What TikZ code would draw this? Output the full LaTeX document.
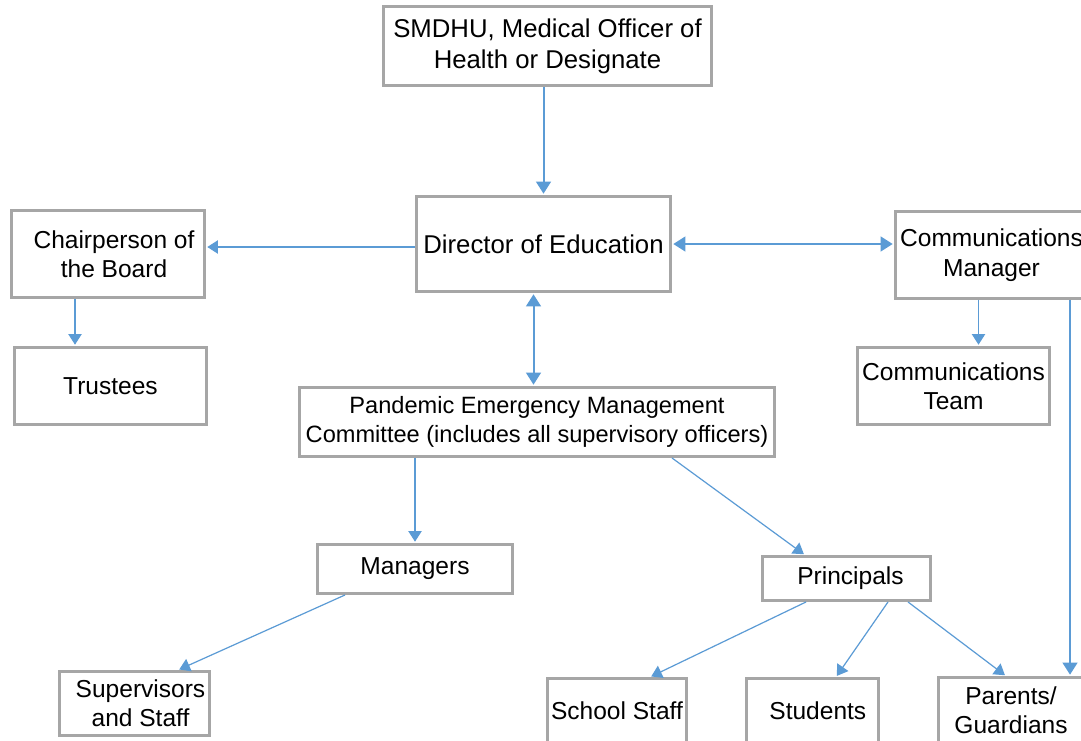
\documentclass[tikz,border=0pt]{standalone}
\usepackage{fontspec}
\setmainfont{Liberation Sans}
\usetikzlibrary{arrows.meta}
\definecolor{boxgray}{HTML}{A6A6A6}
\definecolor{linkblue}{HTML}{5B9BD5}

\tikzset{
  box/.style={draw=boxgray, line width=2.2pt, fill=white, align=center,
    inner sep=0pt, font=\fontsize{18.4}{22}\selectfont},
  bigtext/.style={font=\fontsize{19.3}{23.2}\selectfont},
  smalltext/.style={font=\fontsize{17.7}{21.75}\selectfont},
  tip/.tip={Triangle[width=10pt,length=8pt]},
  bigtip/.tip={Triangle[width=11pt,length=9pt]},
  link/.style={draw=linkblue, line width=0.9pt, -tip, shorten >=1pt},
  heavy/.style={line width=1.5pt, -bigtip},
  twoway/.style={bigtip-bigtip, shorten <=1pt}
}

% box given by its outer corners (x1,y1) and (x2,y2) in pixel units
\newcommand\orgbox[7][]{%
  \node[box, minimum width={(#5-#3-3)*0.75pt}, minimum height={(#6-#4-3)*0.75pt}, #1]
    (#2) at ({(#3+#5)/2},{(#4+#6)/2}) {#7};}

\begin{document}
\begin{tikzpicture}[x=0.75pt,y=-0.75pt]
  \useasboundingbox (0,0) rectangle (1081,740);
  \fill[white] (0,0) rectangle (1081,740);
  \clip (0,0) rectangle (1081,740);

  \orgbox[bigtext]{smdhu}{382}{5}{713}{87}{SMDHU, Medical Officer of\\Health or Designate}
  \orgbox[bigtext]{director}{415}{195}{672}{293}{Director of Education}
  \orgbox{chair}{10}{209}{206}{299}{\hspace*{9pt}Chairperson of\\\hspace*{9pt}the Board}
  \orgbox{trustees}{13}{346}{208}{426}{Trustees}
  \orgbox{commmgr}{894}{210}{1089}{300}{Communications\\Manager}
  \orgbox{commteam}{856}{346}{1051}{426}{Communications\\Team}
  \orgbox[smalltext]{pemc}{298}{386}{776}{458}{Pandemic Emergency Management\\Committee (includes all supervisory officers)}
  \orgbox{managers}{316}{543}{514}{595}{Managers}
  \orgbox{principals}{761}{555}{932}{602}{\hspace*{6pt}Principals}
  \orgbox{supervisors}{58}{670}{211}{737}{\hspace*{9pt}Supervisors\\\hspace*{9pt}and Staff}
  \orgbox{schoolstaff}{546}{677}{688}{745}{School Staff}
  \orgbox{students}{745}{677}{880}{744}{\hspace*{8pt}Students}
  \orgbox{parents}{937}{676}{1085}{745}{Parents/\\Guardians}

  % connectors
  \draw[link, heavy] (director.north |- smdhu.south) -- (director.north);
  \draw[link] ([shift={(0,3)}]director.west) -- ([shift={(0,3)}]director.west -| chair.east);
  \draw[link, heavy, twoway] (director.east) -- (director.east -| commmgr.west);
  \draw[link] ([shift={(-33,0)}]chair.south) -- ([shift={(-33,0)}]chair.south |- trustees.north);
  \draw[link, heavy, twoway] ([shift={(-10,0)}]director.south) -- ([shift={(-10,0)}]director.south |- pemc.north);
  \draw[link] ([shift={(-13,0)}]commmgr.south) -- ([shift={(-13,0)}]commmgr.south |- commteam.north);
  \draw[link, heavy] ([shift={(78.5,0)}]commmgr.south) -- ([shift={(78.5,0)}]commmgr.south |- parents.north);
  \draw[link] (managers.north |- pemc.south) -- (managers.north);
  \draw[link] ([shift={(135,0)}]pemc.south) -- ([shift={(-41.5,0)}]principals.north);
  \draw[link] ([shift={(-70,0)}]managers.south) -- ([shift={(43.5,0)}]supervisors.north);
  \draw[link] ([shift={(-40.5,0)}]principals.south) -- ([shift={(33,0)}]schoolstaff.north);
  \draw[link] ([shift={(41.5,0)}]principals.south) -- ([shift={(23.5,0)}]students.north);
  \draw[link] ([shift={(61.5,0)}]principals.south) -- ([shift={(-5,0)}]parents.north);
\end{tikzpicture}
\end{document}
